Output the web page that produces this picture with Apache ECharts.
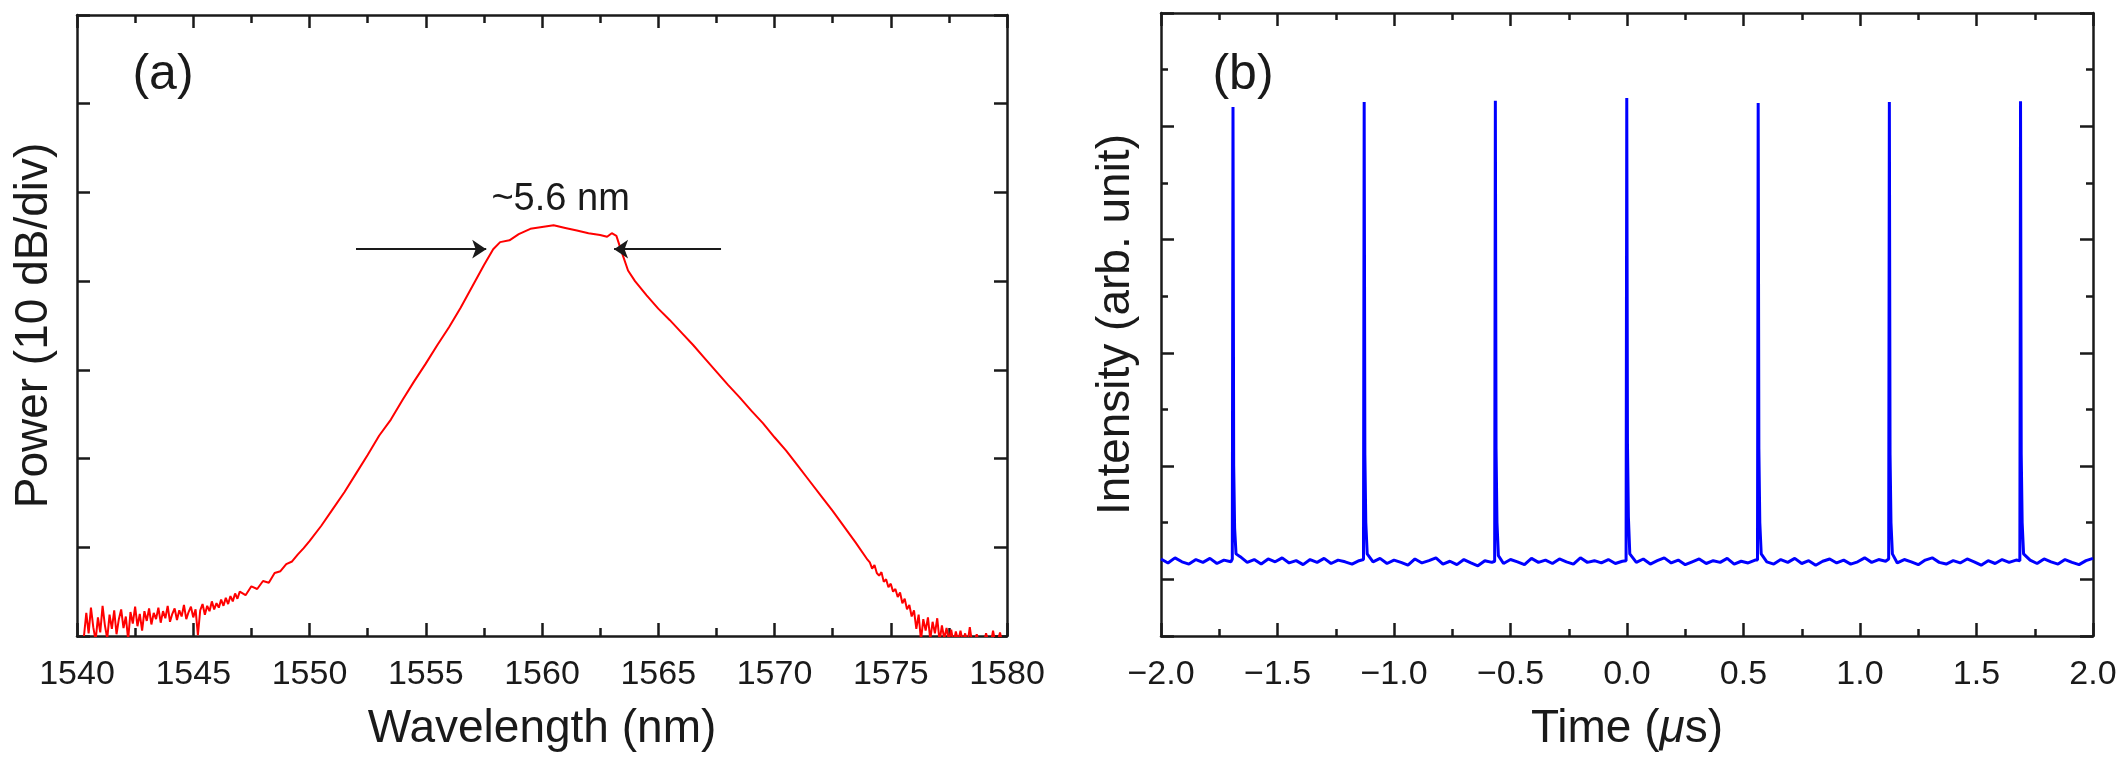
<!DOCTYPE html>
<html>
<head>
<meta charset="utf-8">
<script src="https://cdn.jsdelivr.net/npm/echarts@6/dist/echarts.min.js"></script>
<style>
  html, body { margin: 0; padding: 0; background: #fff; }
  #main { width: 2125px; height: 768px; }
</style>
</head>
<body>
<div id="main"></div>
<script>
// (a) optical spectrum: wavelength (nm) vs power in dB above the frame bottom (10 dB/div)
var wavelength = [
  1540.3, 1540.4, 1540.5, 1540.6, 1540.7, 1540.8, 1540.9, 1541.0, 1541.1, 1541.2,
  1541.3, 1541.4, 1541.5, 1541.6, 1541.7, 1541.8, 1541.9, 1542.0, 1542.1, 1542.2,
  1542.3, 1542.4, 1542.5, 1542.6, 1542.7, 1542.8, 1542.9, 1543.0, 1543.1, 1543.2,
  1543.3, 1543.4, 1543.5, 1543.6, 1543.7, 1543.8, 1543.9, 1544.0, 1544.1, 1544.2,
  1544.3, 1544.4, 1544.5, 1544.6, 1544.7, 1544.8, 1544.9, 1545.0, 1545.1, 1545.2,
  1545.3, 1545.4, 1545.5, 1545.6, 1545.7, 1545.8, 1545.9, 1546.0, 1546.1, 1546.2,
  1546.3, 1546.4, 1546.5, 1546.6, 1546.7, 1546.8, 1546.9,
  1547.0, 1547.25, 1547.5, 1547.75, 1548.0, 1548.25, 1548.5, 1548.75, 1549.0, 1549.25, 1549.5, 1549.75,
  1550.0, 1550.5, 1551.0, 1551.5, 1552.0, 1552.5, 1553.0, 1553.5, 1554.0, 1554.5,
  1555.0, 1555.5, 1556.0, 1556.5, 1557.0, 1557.5, 1557.9, 1558.2, 1558.6, 1559.0,
  1559.5, 1560.0, 1560.5, 1561.0, 1561.5, 1562.0, 1562.5, 1562.8, 1563.0, 1563.2,
  1563.4, 1563.7, 1564.0, 1564.5, 1565.0, 1565.5, 1566.0, 1566.5, 1567.0, 1567.5,
  1568.0, 1568.5, 1569.0, 1569.5, 1570.0, 1570.5, 1571.0, 1571.5, 1572.0, 1572.5,
  1573.0, 1573.5, 1574.0,
  1574.1, 1574.2, 1574.3, 1574.4, 1574.5, 1574.6, 1574.7, 1574.8, 1574.9, 1575.0,
  1575.1, 1575.2, 1575.3, 1575.4, 1575.5, 1575.6, 1575.7, 1575.8, 1575.9, 1576.0,
  1576.1, 1576.2, 1576.3, 1576.4, 1576.5, 1576.6, 1576.7, 1576.8, 1576.9, 1577.0,
  1577.1, 1577.2, 1577.3, 1577.4, 1577.5, 1577.6, 1577.7, 1577.8, 1577.9, 1578.0,
  1578.1, 1578.2, 1578.3, 1578.4, 1578.5, 1578.6, 1578.7, 1578.8, 1578.9, 1579.0,
  1579.1, 1579.2, 1579.3, 1579.4, 1579.5, 1579.6, 1579.7, 1579.8, 1579.9
];
var power = [
  0.0, 2.6, 0.3, 3.2, 1.0, -0.5, 2.1, 0.4, 3.4, 1.2,
  -0.3, 2.4, 0.8, 2.9, 0.2, 1.9, 3.0, 0.9, 2.2, -0.4,
  2.7, 1.4, 3.3, 1.1, 2.5, 0.6, 2.8, 1.7, 3.1, 1.3,
  2.6, 1.9, 3.2, 1.5, 2.8, 2.0, 3.4, 1.6, 2.5, 3.1,
  1.8, 2.9, 2.2, 3.5, 1.9, 2.7, 3.3, 2.1, 3.0, 0.1,
  2.9, 3.6, 2.4, 3.4, 2.8, 3.9, 3.0, 3.7, 3.2, 4.1,
  3.4, 4.3, 3.6, 4.5, 3.9, 4.8, 4.2,
  5.0, 4.6, 5.6, 5.3, 6.2, 6.0, 7.1, 7.3, 8.1, 8.4, 9.2, 9.9,
  10.7, 12.4, 14.3, 16.2, 18.3, 20.4, 22.6, 24.4, 26.6, 28.7,
  30.7, 32.8, 34.8, 37.0, 39.4, 41.8, 43.6, 44.4, 44.6, 45.3,
  45.9, 46.1, 46.3, 46.0, 45.7, 45.4, 45.2, 45.0, 45.4, 45.1,
  43.5, 41.2, 40.0, 38.4, 36.9, 35.6, 34.2, 32.8, 31.3, 29.8,
  28.3, 26.9, 25.4, 24.0, 22.4, 20.9, 19.2, 17.5, 15.8, 14.1,
  12.3, 10.5, 8.6,
  8.3, 7.6, 8.0, 7.1, 6.8, 7.2, 6.1, 6.4, 5.5, 5.9,
  5.0, 5.3, 4.4, 4.9, 3.7, 4.2, 3.0, 3.5, 2.2, 2.9,
  0.8, 2.4, -0.5, 1.9, 0.6, 2.1, -0.4, 1.6, 0.3, 2.0,
  -0.6, 1.2, -0.3, 0.9, -0.5, 0.7, -0.8, 0.5, -0.6, 0.6,
  -0.7, 0.3, -0.9, 1.0, -0.8, -0.5, 0.2, -0.9, -0.6, -0.8,
  0.3, -0.7, -0.9, 0.6, -0.8, -0.6, 0.4, -0.9, -0.7
];

// (b) pulse train: time (us) vs intensity in half-divisions above the frame bottom
var timeUs = [
  -2.00, -1.97, -1.94, -1.91, -1.88, -1.85, -1.82, -1.79, -1.76, -1.73, -1.70,
  -1.694, -1.691, -1.688, -1.684, -1.678,
  -1.66, -1.63, -1.60, -1.57, -1.54, -1.51, -1.48, -1.45, -1.42, -1.39, -1.36, -1.33, -1.30, -1.27, -1.24, -1.21, -1.18, -1.15,
  -1.131, -1.128, -1.125, -1.121, -1.115,
  -1.09, -1.06, -1.03, -1.00, -0.97, -0.94, -0.91, -0.88, -0.85, -0.82, -0.79, -0.76, -0.73, -0.70, -0.67, -0.64, -0.61, -0.58,
  -0.568, -0.565, -0.562, -0.558, -0.552,
  -0.53, -0.50, -0.47, -0.44, -0.41, -0.38, -0.35, -0.32, -0.29, -0.26, -0.23, -0.20, -0.17, -0.14, -0.11, -0.08, -0.05, -0.02,
  -0.004, -0.001, 0.002, 0.006, 0.012,
  0.04, 0.07, 0.10, 0.13, 0.16, 0.19, 0.22, 0.25, 0.28, 0.31, 0.34, 0.37, 0.40, 0.43, 0.46, 0.49, 0.52, 0.55,
  0.560, 0.563, 0.566, 0.570, 0.576,
  0.60, 0.63, 0.66, 0.69, 0.72, 0.75, 0.78, 0.81, 0.84, 0.87, 0.90, 0.93, 0.96, 0.99, 1.02, 1.05, 1.08, 1.11,
  1.123, 1.126, 1.129, 1.133, 1.139,
  1.16, 1.19, 1.22, 1.25, 1.28, 1.31, 1.34, 1.37, 1.40, 1.43, 1.46, 1.49, 1.52, 1.55, 1.58, 1.61, 1.64, 1.67,
  1.686, 1.689, 1.692, 1.696, 1.702,
  1.73, 1.76, 1.79, 1.82, 1.85, 1.88, 1.91, 1.94, 1.97, 2.00
];
var intensity = [
  1.36, 1.29, 1.38, 1.31, 1.27, 1.35, 1.30, 1.37, 1.28, 1.34, 1.31,
  1.36, 9.34, 3.0, 1.9, 1.45,
  1.40, 1.30, 1.35, 1.27, 1.36, 1.31, 1.38, 1.29, 1.33, 1.26, 1.35, 1.30, 1.37, 1.28, 1.34, 1.31, 1.27, 1.33,
  1.35, 9.43, 3.2, 2.0, 1.45,
  1.31, 1.37, 1.28, 1.34, 1.30, 1.25, 1.36, 1.29, 1.33, 1.38, 1.27, 1.32, 1.26, 1.35, 1.29, 1.24, 1.33, 1.30,
  1.32, 9.45, 3.3, 2.0, 1.42,
  1.28, 1.35, 1.31, 1.26, 1.37, 1.30, 1.34, 1.28, 1.36, 1.31, 1.27, 1.38, 1.30, 1.33, 1.29, 1.35, 1.28, 1.32,
  1.33, 9.50, 3.4, 2.1, 1.45,
  1.30, 1.36, 1.27, 1.33, 1.38, 1.29, 1.34, 1.26, 1.31, 1.36, 1.28, 1.33, 1.30, 1.37, 1.27, 1.32, 1.29, 1.34,
  1.34, 9.41, 3.3, 2.0, 1.45,
  1.31, 1.27, 1.35, 1.30, 1.37, 1.28, 1.33, 1.25, 1.32, 1.36, 1.29, 1.34, 1.27, 1.31, 1.38, 1.30, 1.35, 1.32,
  1.36, 9.43, 3.2, 2.0, 1.45,
  1.29, 1.35, 1.31, 1.26, 1.34, 1.38, 1.30, 1.27, 1.33, 1.29, 1.36, 1.31, 1.25, 1.33, 1.28, 1.35, 1.30, 1.34,
  1.33, 9.44, 3.2, 2.0, 1.45,
  1.34, 1.28, 1.36, 1.31, 1.27, 1.35, 1.30, 1.26, 1.33, 1.37
];

// annotations
var fwhmLevel = 43.6;        // arrow height in (a)
var fwhmArrowLeft = [1552.0, 1557.6];
var fwhmArrowRight = [1567.7, 1563.1];

var font = "'Liberation Sans', Arial, sans-serif";
var ink = '#1a1a1a';

var chart = echarts.init(document.getElementById('main'));

var tickStyle = { color: ink, width: 2.5 };
var lineStyle = { color: ink, width: 2.5 };

function fmtTime(v) {
  return (v < 0 ? '\u2212' : '') + Math.abs(v).toFixed(1);
}

var option = {
  backgroundColor: '#fff',
  animation: false,
  grid: [
    { left: 77, top: 15, width: 930, height: 621, outerBoundsMode: 'none' },
    { left: 1161, top: 13, width: 932, height: 623, outerBoundsMode: 'none' }
  ],
  xAxis: [
    {
      gridIndex: 0, type: 'value', position: 'bottom', min: 1540, max: 1580, interval: 5,
      axisLine: { onZero: false, lineStyle: lineStyle },
      axisTick: { inside: true, length: 13, lineStyle: tickStyle },
      minorTick: { show: true, splitNumber: 2, length: 8, lineStyle: tickStyle },
      axisLabel: { fontFamily: font, fontSize: 34, color: ink, margin: 22,
        formatter: function (v) { return String(v); } },
      splitLine: { show: false }, minorSplitLine: { show: false },
      name: 'Wavelength (nm)', nameLocation: 'middle', nameGap: 70,
      nameTextStyle: { fontFamily: font, fontSize: 46, color: ink }
    },
    {
      gridIndex: 0, type: 'value', position: 'top', min: 1540, max: 1580, interval: 5,
      axisLine: { onZero: false, lineStyle: lineStyle },
      axisTick: { inside: true, length: 13, lineStyle: tickStyle },
      minorTick: { show: true, splitNumber: 2, length: 8, lineStyle: tickStyle },
      axisLabel: { show: false },
      splitLine: { show: false }, minorSplitLine: { show: false }
    },
    {
      gridIndex: 1, type: 'value', position: 'bottom', min: -2, max: 2, interval: 0.5,
      axisLine: { onZero: false, lineStyle: lineStyle },
      axisTick: { inside: true, length: 13, lineStyle: tickStyle },
      minorTick: { show: true, splitNumber: 2, length: 7, lineStyle: tickStyle },
      axisLabel: { fontFamily: font, fontSize: 34, color: ink, margin: 22, formatter: fmtTime },
      splitLine: { show: false }, minorSplitLine: { show: false },
      name: '{n|Time (}{i|\u03bc}{n|s)}', nameLocation: 'middle', nameGap: 70,
      nameTextStyle: {
        rich: {
          n: { fontFamily: font, fontSize: 46, color: ink },
          i: { fontFamily: font, fontSize: 46, color: ink, fontStyle: 'italic' }
        }
      }
    },
    {
      gridIndex: 1, type: 'value', position: 'top', min: -2, max: 2, interval: 0.5,
      axisLine: { onZero: false, lineStyle: lineStyle },
      axisTick: { inside: true, length: 13, lineStyle: tickStyle },
      minorTick: { show: true, splitNumber: 2, length: 7, lineStyle: tickStyle },
      axisLabel: { show: false },
      splitLine: { show: false }, minorSplitLine: { show: false }
    }
  ],
  yAxis: [
    {
      gridIndex: 0, type: 'value', position: 'left', min: 0, max: 70, interval: 10,
      axisLine: { show: true, onZero: false, lineStyle: lineStyle },
      axisTick: { show: true, inside: true, length: 13, lineStyle: tickStyle },
      axisLabel: { show: false }, splitLine: { show: false },
      name: 'Power (10 dB/div)', nameLocation: 'middle', nameGap: 20, nameRotate: 90,
      nameTextStyle: { fontFamily: font, fontSize: 46, color: ink }
    },
    {
      gridIndex: 0, type: 'value', position: 'right', min: 0, max: 70, interval: 10,
      axisLine: { show: true, onZero: false, lineStyle: lineStyle },
      axisTick: { show: true, inside: true, length: 13, lineStyle: tickStyle },
      axisLabel: { show: false }, splitLine: { show: false }
    },
    // (b) data axis, also draws the short ticks every half division
    {
      gridIndex: 1, type: 'value', position: 'left', min: 0, max: 11, interval: 1,
      axisLine: { show: true, onZero: false, lineStyle: lineStyle },
      axisTick: { show: true, inside: true, length: 7, lineStyle: tickStyle },
      axisLabel: { show: false }, splitLine: { show: false },
      name: 'Intensity (arb. unit)', nameLocation: 'middle', nameGap: 22, nameRotate: 90,
      nameTextStyle: { fontFamily: font, fontSize: 46, color: ink }
    },
    // (b) long ticks counted down from the top
    {
      gridIndex: 1, type: 'value', position: 'left', inverse: true, min: 0, max: 5.5, interval: 1,
      axisLine: { show: false, onZero: false },
      axisTick: { show: true, inside: true, length: 13, lineStyle: tickStyle },
      axisLabel: { show: false }, splitLine: { show: false }
    },
    {
      gridIndex: 1, type: 'value', position: 'right', min: 0, max: 11, interval: 1,
      axisLine: { show: true, onZero: false, lineStyle: lineStyle },
      axisTick: { show: true, inside: true, length: 7, lineStyle: tickStyle },
      axisLabel: { show: false }, splitLine: { show: false }
    },
    {
      gridIndex: 1, type: 'value', position: 'right', inverse: true, min: 0, max: 5.5, interval: 1,
      axisLine: { show: false, onZero: false },
      axisTick: { show: true, inside: true, length: 13, lineStyle: tickStyle },
      axisLabel: { show: false }, splitLine: { show: false }
    }
  ],
  series: [
    {
      type: 'line', xAxisIndex: 0, yAxisIndex: 0,
      data: wavelength.map(function (w, i) { return [w, power[i]]; }),
      showSymbol: false, clip: true,
      lineStyle: { color: '#ff0000', width: 2 },
      itemStyle: { color: '#ff0000' },
      markLine: {
        silent: true, symbol: ['none', 'arrow'], symbolSize: 14,
        lineStyle: { color: ink, width: 2, type: 'solid' },
        itemStyle: { color: ink },
        label: { show: false },
        data: [
          [{ coord: [fwhmArrowLeft[0], fwhmLevel] }, { coord: [fwhmArrowLeft[1], fwhmLevel] }],
          [{ coord: [fwhmArrowRight[0], fwhmLevel] }, { coord: [fwhmArrowRight[1], fwhmLevel] }]
        ]
      },
      markPoint: {
        silent: true, symbol: 'rect', symbolSize: 1,
        itemStyle: { color: 'rgba(0,0,0,0)' },
        label: { show: true, position: 'inside', color: ink, fontFamily: font, fontSize: 38 },
        data: [
          { coord: [1560.8, 49.2], label: { formatter: '~5.6 nm' } },
          { coord: [1543.7, 63.2], label: { formatter: '(a)', fontSize: 50 } }
        ]
      }
    },
    {
      type: 'line', xAxisIndex: 2, yAxisIndex: 2,
      data: timeUs.map(function (t, i) { return [t, intensity[i]]; }),
      showSymbol: false, clip: true,
      lineStyle: { color: '#0000ff', width: 3 },
      itemStyle: { color: '#0000ff' },
      markPoint: {
        silent: true, symbol: 'rect', symbolSize: 1,
        itemStyle: { color: 'rgba(0,0,0,0)' },
        label: { show: true, position: 'inside', color: ink, fontFamily: font, fontSize: 50 },
        data: [
          { coord: [-1.648, 9.9], label: { formatter: '(b)' } }
        ]
      }
    }
  ]
};

chart.setOption(option);
window.onresize = function () { chart.resize(); };
</script>
</body>
</html>
